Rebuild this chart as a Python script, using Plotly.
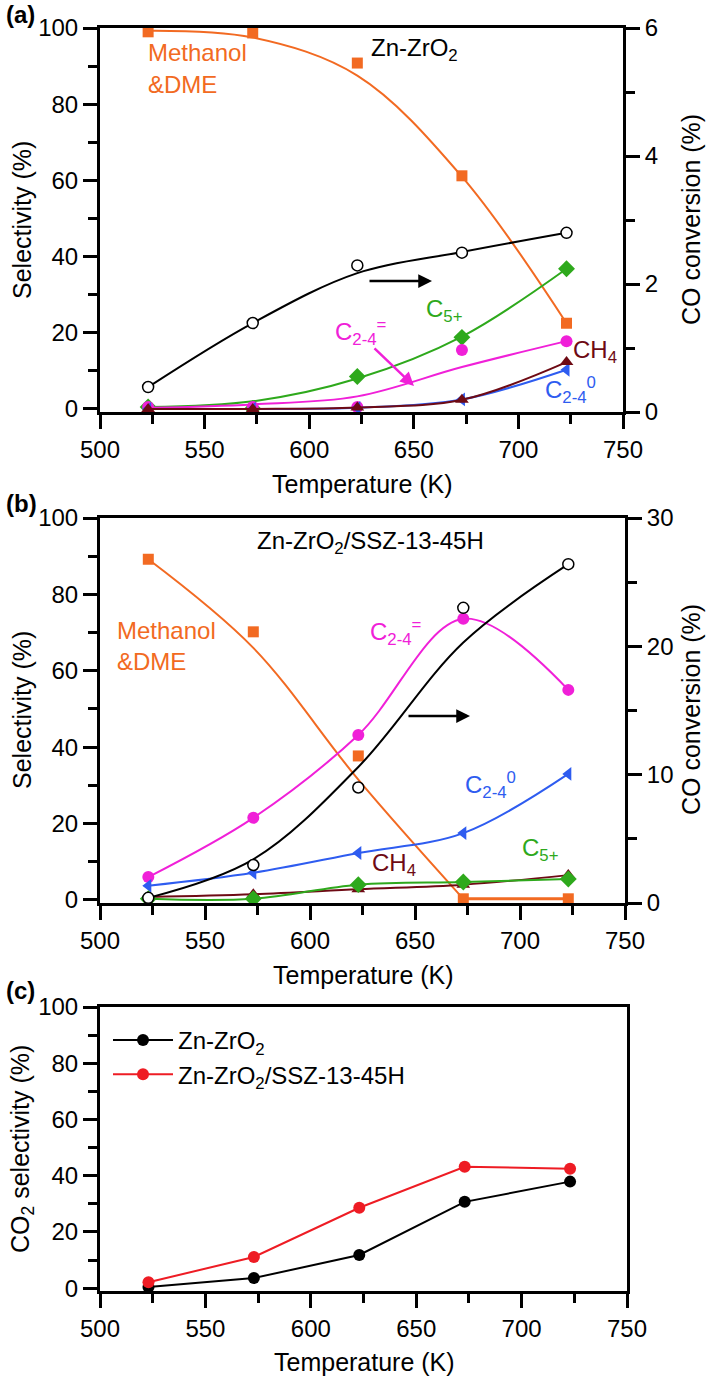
import plotly.graph_objects as go

W, H = 708, 1378
FONT = "Liberation Sans, Arial, sans-serif"

# ---------------- data ----------------
temps = [523, 573, 623, 673, 723]
x_ticks = [500, 550, 600, 650, 700, 750]

# Panel (a) Zn-ZrO2
a_meoh = [99, 98.7, 90.8, 61.2, 22.5]
a_meoh_fit = [99.3, 97.5, 87.5, 61, 22.5]
a_conv = [0.39, 1.39, 2.29, 2.49, 2.8]
a_conv_fit = [0.39, 1.39, 2.17, 2.5, 2.8]
a_c5 = [0.5, 0.1, 8.5, 18.8, 36.8]
a_c5_fit = [0.5, 2.0, 8.0, 19.0, 36.8]
a_olef = [0.5, 0.5, 0.5, 15.5, 17.8]
a_olef_fit = [0.3, 1.2, 3.3, 11.0, 17.8]
a_ch4 = [0.0, 0.0, 0.4, 2.4, 12.3]
a_par = [0.0, 0.0, 0.3, 2.5, 10.3]

# Panel (b) Zn-ZrO2/SSZ-13-45H
b_meoh = [89.2, 70.2, 37.7, 0.3, 0.3]
b_meoh_fit = [89.2, 66, 31.5, 0.3]
b_meoh_tail = [0.3, 0.3]
b_conv = [0.4, 2.96, 9.0, 23.0, 26.4]
b_conv_fit = [0.4, 3.4, 10.6, 20.3, 26.4]
b_olef = [6.0, 21.5, 43.2, 73.6, 55.0]
b_par = [3.7, 7.1, 12.3, 17.5, 33.0]
b_ch4 = [0.8, 1.5, 2.8, 4.0, 6.5]
b_c5 = [0.3, 0.3, 4.0, 4.7, 5.5]

# Panel (c) CO2 selectivity
c_zn = [0.4, 3.6, 11.8, 30.7, 37.9]
c_znssz = [2.1, 11.1, 28.6, 43.2, 42.5]

ORANGE = "#F26A22"
MAGENTA = "#F020D8"
GREEN = "#2EA91C"
BLUE = "#2E5CF0"
MAROON = "#6E0A14"
RED = "#EE1C24"


def px(x):
    return x / W


def py(y):
    return 1 - y / H


fig = go.Figure()


def add(x, y, xa, ya, color, mode, symbol=None, size=10, fill=None, lw=2,
        name=None, showlegend=False, shape="spline", mline=None):
    marker = None
    if symbol:
        marker = dict(symbol=symbol, size=size, color=fill or color,
                      line=dict(color=mline or color, width=1.5 if mline else 0))
    fig.add_trace(go.Scatter(x=x, y=y, xaxis=xa, yaxis=ya, mode=mode,
                             line=dict(color=color, width=lw, shape=shape,
                                       smoothing=1.0),
                             marker=marker, name=name, showlegend=showlegend,
                             hoverinfo="skip"))


# ---- panel (a) ----
add(temps, a_meoh_fit, "x", "y", ORANGE, "lines")
add(temps, a_meoh, "x", "y", ORANGE, "markers", "square", 11)
add(temps, a_c5_fit, "x", "y", GREEN, "lines")
add(temps, a_c5, "x", "y", GREEN, "markers", "diamond", 13)
add(temps, a_olef_fit, "x", "y", MAGENTA, "lines")
add(temps, a_olef, "x", "y", MAGENTA, "markers", "circle", 12)
add(temps, a_par, "x", "y", BLUE, "lines+markers", "triangle-left", 12)
add(temps, a_ch4, "x", "y", MAROON, "lines+markers", "triangle-up", 12)
add(temps, a_conv_fit, "x", "y2", "black", "lines")
add(temps, a_conv, "x", "y2", "black", "markers", "circle", 11,
    fill="white", mline="black")

# ---- panel (b) ----
add(temps[:4], b_meoh_fit, "x2", "y3", ORANGE, "lines")
add(temps[3:], b_meoh_tail, "x2", "y3", ORANGE, "lines", shape="linear", lw=3)
add(temps, b_meoh, "x2", "y3", ORANGE, "markers", "square", 11)
add(temps, b_olef, "x2", "y3", MAGENTA, "lines+markers", "circle", 12)
add(temps, b_par, "x2", "y3", BLUE, "lines+markers", "triangle-left", 12)
add(temps, b_ch4, "x2", "y3", MAROON, "lines+markers", "triangle-up", 12)
add(temps, b_c5, "x2", "y3", GREEN, "lines+markers", "diamond", 13)
add(temps, b_conv_fit, "x2", "y4", "black", "lines")
add(temps, b_conv, "x2", "y4", "black", "markers", "circle", 11,
    fill="white", mline="black")

# ---- panel (c) ----
add(temps, c_zn, "x3", "y5", "black", "lines+markers", "circle", 12,
    name="Zn-ZrO<sub>2</sub>", showlegend=True, shape="linear")
add(temps, c_znssz, "x3", "y5", RED, "lines+markers", "circle", 12,
    name="Zn-ZrO<sub>2</sub>/SSZ-13-45H", showlegend=True, shape="linear")

tickfont = dict(family=FONT, size=24, color="black")


def xaxis(dom, anchor):
    return dict(domain=dom, anchor=anchor, range=[500, 750], tickvals=x_ticks,
                ticks="outside", ticklen=14, tickwidth=3, tickcolor="black",
                showline=True, linewidth=3, linecolor="black", mirror=True,
                showgrid=False, zeroline=False, tickfont=tickfont,
                automargin=False,
                minor=dict(dtick=25, tick0=500, ticks="outside", ticklen=9,
                           tickwidth=3, tickcolor="black", showgrid=False))


def yaxis(dom, anchor, rng, tickvals, dtick_minor, side="left", overlaying=None):
    d = dict(domain=dom, anchor=anchor, range=rng, tickvals=tickvals,
             ticks="outside", ticklen=14, tickwidth=3, tickcolor="black",
             showline=True, linewidth=3, linecolor="black", side=side,
             showgrid=False, zeroline=False, tickfont=tickfont,
             automargin=False,
             minor=dict(dtick=dtick_minor, tick0=0, ticks="outside", ticklen=9,
                        tickwidth=3, tickcolor="black", showgrid=False))
    if overlaying:
        d["overlaying"] = overlaying
    return d


dom_a = [py(412), py(28)]
dom_b = [py(903), py(518)]
dom_c = [py(1291), py(1007)]

sel_ticks = [0, 20, 40, 60, 80, 100]

fig.update_layout(
    width=W, height=H, margin=dict(l=0, r=0, t=0, b=0),
    paper_bgcolor="white", plot_bgcolor="white",
    font=dict(family=FONT, size=24, color="black"),
    xaxis=xaxis([px(100), px(623)], "y"),
    yaxis=yaxis(dom_a, "x", [-0.8, 100], sel_ticks, 10),
    yaxis2=yaxis(dom_a, "x", [0, 6], [0, 2, 4, 6], 1, side="right",
                 overlaying="y"),
    xaxis2=xaxis([px(100), px(625)], "y3"),
    yaxis3=yaxis(dom_b, "x2", [-0.8, 100], sel_ticks, 10),
    yaxis4=yaxis(dom_b, "x2", [0, 30], [0, 10, 20, 30], 5, side="right",
                 overlaying="y3"),
    xaxis3=xaxis([px(100), px(627)], "y5"),
    yaxis5=yaxis(dom_c, "x3", [-1, 100], sel_ticks, 10),
    legend=dict(x=px(108), y=py(1018), xanchor="left", yanchor="top",
                bgcolor="rgba(0,0,0,0)", font=dict(family=FONT, size=24),
                itemwidth=60, tracegroupgap=0),
)
# mirror only the line on the right of panel (c)
fig.layout.yaxis5.mirror = True

ann = []


def text(x, y, s, color="black", size=24, xanchor="left", angle=0, bold=False):
    if bold:
        s = "<b>" + s + "</b>"
    ann.append(dict(x=px(x), y=py(y), xref="paper", yref="paper", text=s,
                    showarrow=False, xanchor=xanchor, yanchor="middle",
                    textangle=angle,
                    font=dict(family=FONT, size=size, color=color)))


def arrow(x0, y0, x1, y1, color):
    ann.append(dict(x=px(x1), y=py(y1), xref="paper", yref="paper",
                    ax=x0 - x1, ay=y0 - y1, axref="pixel", ayref="pixel",
                    text="", showarrow=True, arrowhead=2, arrowsize=1.1,
                    arrowwidth=2.5, arrowcolor=color))


# panel labels
text(4, 15, "(a)", bold=True, size=24)
text(4, 503, "(b)", bold=True, size=24)
text(4, 990, "(c)", bold=True, size=24)

# axis titles
for yc, yt in [(220, "Selectivity (%)"), (710, "Selectivity (%)"),
               (1149, "CO<sub>2</sub> selectivity (%)")]:
    text(22, yc, yt, size=25, xanchor="center", angle=-90)
for yc in [220, 710]:
    text(691, yc, "CO conversion (%)", size=25, xanchor="center", angle=-90)
for yc, xc in [(484, 362), (975, 363), (1362, 364)]:
    text(xc, yc, "Temperature (K)", size=25, xanchor="center")

# panel (a) labels
text(146, 53, "Methanol", ORANGE)
text(146, 84, "&amp;DME", ORANGE)
text(369, 49, "Zn-ZrO<sub>2</sub>")
text(424, 310, "C<sub>5+</sub>", GREEN)
text(333, 332, "C<sub>2-4</sub><sup>=</sup>", MAGENTA)
text(571, 352, "CH<sub>4</sub>", MAROON)
text(543, 390, "C<sub>2-4</sub><sup>0</sup>", BLUE)
arrow(368, 281, 432, 281, "black")
arrow(373, 347, 414, 386, MAGENTA)

# panel (b) labels
text(255, 542, "Zn-ZrO<sub>2</sub>/SSZ-13-45H")
text(115, 630, "Methanol", ORANGE)
text(115, 661, "&amp;DME", ORANGE)
text(368, 632, "C<sub>2-4</sub><sup>=</sup>", MAGENTA)
text(463, 785, "C<sub>2-4</sub><sup>0</sup>", BLUE)
text(370, 864, "CH<sub>4</sub>", MAROON)
text(520, 849, "C<sub>5+</sub>", GREEN)
arrow(407, 716, 470, 716, "black")

fig.update_layout(annotations=ann)

fig.write_html(
    "out.html",
    config={"displayModeBar": False},
    post_script="document.body.style.margin='0';"
                "document.body.style.overflow='hidden';",
)
